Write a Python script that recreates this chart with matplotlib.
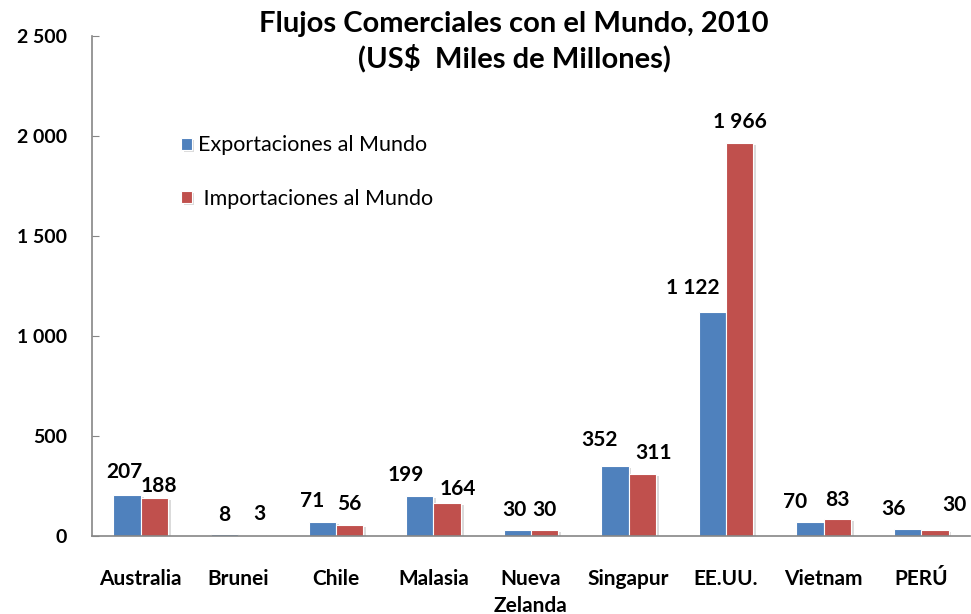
import matplotlib
matplotlib.use("Agg")
import matplotlib.pyplot as plt
import matplotlib.patheffects as pe
import numpy as np

categories = ["Australia", "Brunei", "Chile", "Malasia", "Nueva\nZelanda",
              "Singapur", "EE.UU.", "Vietnam", "PERÚ"]
exports = [207, 8, 71, 199, 30, 352, 1122, 70, 36]
imports = [188, 3, 56, 164, 30, 311, 1966, 83, 30]
export_labels = ["207", "8", "71", "199", "30", "352", "1 122", "70", "36"]
import_labels = ["188", "3", "56", "164", "30", "311", "1 966", "83", "30"]
yticks = [0, 500, 1000, 1500, 2000, 2500]
ytick_labels = ["0", "500", "1 000", "1 500", "2 000", "2 500"]

# label placement offsets (points) relative to bar top centre (style only)
exp_dx = [-2, 0, -7, -10, -2, -11, -14, -11, -10]
exp_dy = [9, 7, 8, 8, 7, 11, 10, 7, 7]
imp_dx = [3, 5, 0, 8, 0, 8, 0, 0, 14]
imp_dy = [2, 8, 8, 3, 7, 8, 8, 7, 11]

plt.rcParams['font.family'] = ['Lato', 'DejaVu Sans']

blue = "#4F81BD"
red = "#C0504D"

fig = plt.figure(figsize=(9.71, 6.14), dpi=100)
ax = fig.add_axes([92/971, (614-536)/614, (970-92)/971, (536-36)/614])

x = np.arange(len(categories))
w = 0.28
shadow = [pe.SimplePatchShadow(offset=(2, -1.5), shadow_rgbFace="#999999", alpha=0.35), pe.Normal()]
b1 = ax.bar(x - w/2, exports, width=w, color=blue, edgecolor="white", linewidth=0.8,
            label="Exportaciones al Mundo", path_effects=shadow)
b2 = ax.bar(x + w/2, imports, width=w, color=red, edgecolor="white", linewidth=0.8,
            label=" Importaciones al Mundo", path_effects=shadow)

for i in range(len(categories)):
    ax.annotate(export_labels[i], (x[i] - w/2, exports[i]), xytext=(exp_dx[i], exp_dy[i]),
                textcoords="offset points", ha="center", va="bottom",
                fontsize=15, fontweight="bold", color="black")
    ax.annotate(import_labels[i], (x[i] + w/2, imports[i]), xytext=(imp_dx[i], imp_dy[i]),
                textcoords="offset points", ha="center", va="bottom",
                fontsize=15, fontweight="bold", color="black")

ax.set_xlim(-0.5, len(categories) - 0.5)
ax.set_ylim(0, 2500)
ax.set_yticks(yticks)
ax.set_yticklabels(ytick_labels, fontsize=14, fontweight="bold")
ax.set_xticks(x)
ax.set_xticklabels(categories, fontsize=15, fontweight="bold", va="top", linespacing=1.4)
ax.tick_params(axis="x", length=0, pad=24)
ax.tick_params(axis="y", length=5, color="#868686", pad=18, direction="in")

for s in ["top", "right"]:
    ax.spines[s].set_visible(False)
for s in ["left", "bottom"]:
    ax.spines[s].set_color("#868686")
    ax.spines[s].set_linewidth(1.2)

leg = ax.legend(loc="upper left", bbox_to_anchor=(0.079, 0.84), frameon=False,
                fontsize=15.5, handlelength=0.5, handleheight=0.5, handletextpad=0.3,
                labelspacing=1.55)

fig.text(514/971, 1 - 42/614, "Flujos Comerciales con el Mundo, 2010\n(US$  Miles de Millones)",
         ha="center", va="center", fontsize=21, fontweight="bold", linespacing=1.3)

fig.savefig("out.png", dpi=100)
